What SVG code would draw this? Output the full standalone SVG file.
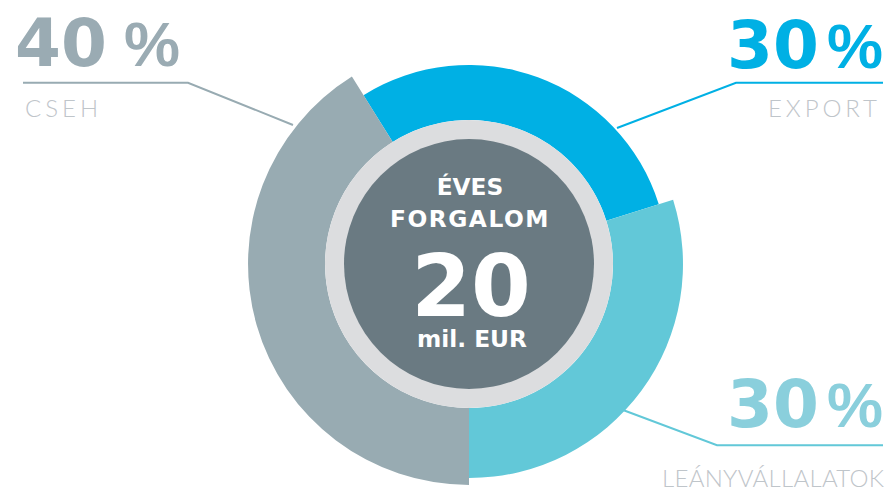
<svg xmlns="http://www.w3.org/2000/svg" width="891" height="491" viewBox="0 0 891 491">
<style>
.big{font-family:"DejaVu Sans","Liberation Sans",sans-serif;font-weight:bold;font-size:66px}
.pct{font-family:"Liberation Sans",Arial,sans-serif;font-weight:bold;font-size:63px}
.lbl{font-family:Lato,"Open Sans","Liberation Sans",sans-serif;font-weight:300;font-size:24px;fill:#BFC5CA}
.ctr{font-family:"DejaVu Sans","Liberation Sans",sans-serif;font-weight:bold;fill:#FFFFFF;text-anchor:middle}
.lead{fill:none;stroke-width:2}
</style>
<rect width="891" height="491" fill="#FFFFFF"/>
<g id="connectors">
<polyline class="lead" stroke="#98ABB2" points="23,82.7 188,82.7 293,125"/>
<polyline class="lead" stroke="#00B0E4" points="883,82.7 736,82.7 617,128"/>
<polyline class="lead" stroke="#62C8D8" points="883,445.3 717,445.3 623,410"/>
</g>
<g id="seg-export">
<path d="M 363.5 95.2 A 199 199 0 0 1 658.8 204.2 L 606.3 220.7 A 144 144 0 0 0 392.7 141.9 Z" fill="#00B0E4"/>
</g>
<g id="seg-leany">
<path d="M 673.1 199.7 A 214 214 0 0 1 469 478 L 469 408 A 144 144 0 0 0 606.3 220.7 Z" fill="#62C8D8"/>
</g>
<g id="seg-cseh">
<path d="M 469 485 A 221 221 0 0 1 351.9 76.6 L 392.7 141.9 A 144 144 0 0 0 469 408 Z" fill="#98ABB2"/>
</g>
<g id="center">
<circle cx="469" cy="264" r="144" fill="#DCDDDF"/>
<circle cx="469" cy="264" r="125" fill="#6A7A82"/>
<text class="ctr" x="470" y="195" font-size="23.3">ÉVES</text>
<text class="ctr" x="470" y="227" font-size="23.3" letter-spacing="1.5">FORGALOM</text>
<text class="ctr" x="471" y="316" font-size="86">20</text>
<text class="ctr" x="472" y="347" font-size="23.3">mil. EUR</text>
</g>
<g id="label-cseh">
<text x="15" y="66" fill="#9AABB3"><tspan class="big">40</tspan><tspan class="pct" x="124">%</tspan></text>
<text class="lbl" x="25" y="117" textLength="73" lengthAdjust="spacing">CSEH</text>
</g>
<g id="label-export">
<text x="727" y="68" fill="#00B0E4"><tspan class="big">30</tspan><tspan class="pct" x="827">%</tspan></text>
<text class="lbl" x="877" y="117" text-anchor="end" textLength="109" lengthAdjust="spacing">EXPORT</text>
</g>
<g id="label-leany">
<text x="727" y="427" fill="#8ACFDC"><tspan class="big">30</tspan><tspan class="pct" x="827">%</tspan></text>
<text class="lbl" x="884" y="487" text-anchor="end" textLength="222" lengthAdjust="spacing">LEÁNYVÁLLALATOK</text>
</g>
</svg>
